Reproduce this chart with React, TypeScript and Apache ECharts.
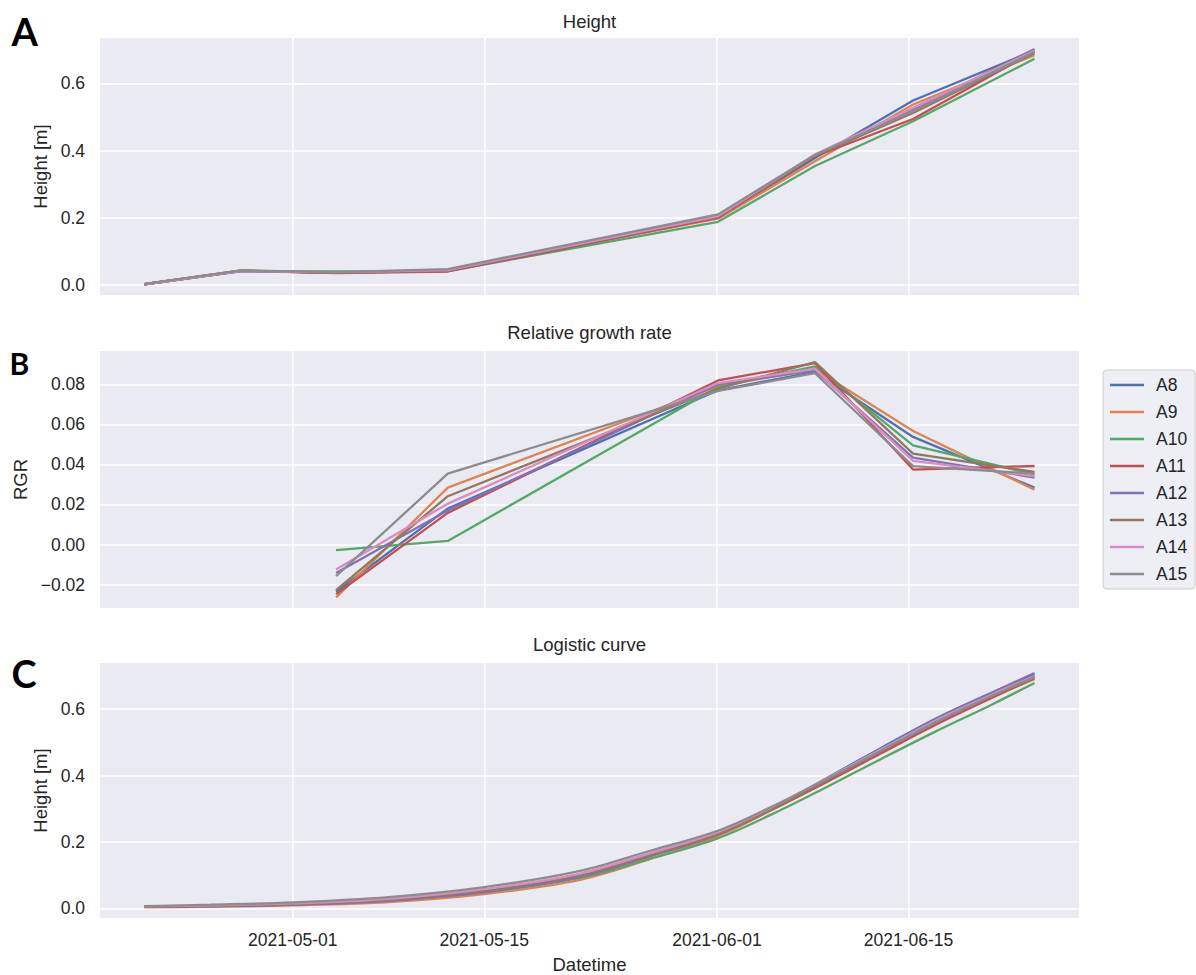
import { useEffect, useRef } from 'react';
import * as echarts from 'echarts';

const SERIES_NAMES = ['A8', 'A9', 'A10', 'A11', 'A12', 'A13', 'A14', 'A15'];
const COLORS = ['#4C72B0', '#DD8452', '#55A868', '#C44E52', '#8172B3', '#937860', '#DA8BC3', '#8C8C8C'];

// measurement times (panel A), panel B uses the 3rd..8th
const MEASURE_DATES = [
  '2021-04-20 04:00', '2021-04-27 06:00', '2021-05-04 04:00', '2021-05-12 08:00',
  '2021-06-01 02:00', '2021-06-08 04:00', '2021-06-15 08:00', '2021-06-24 05:00',
];

// Panel A: measured height [m]
const HEIGHT_A8 = [0.002, 0.042, 0.036, 0.042, 0.200, 0.378, 0.549, 0.698];
const HEIGHT_A9 = [0.002, 0.043, 0.036, 0.044, 0.197, 0.368, 0.537, 0.684];
const HEIGHT_A10 = [0.002, 0.041, 0.040, 0.041, 0.188, 0.354, 0.487, 0.673];
const HEIGHT_A11 = [0.002, 0.042, 0.035, 0.040, 0.200, 0.383, 0.494, 0.695];
const HEIGHT_A12 = [0.002, 0.041, 0.037, 0.043, 0.203, 0.386, 0.522, 0.702];
const HEIGHT_A13 = [0.002, 0.043, 0.036, 0.044, 0.205, 0.385, 0.512, 0.690];
const HEIGHT_A14 = [0.002, 0.042, 0.038, 0.044, 0.205, 0.388, 0.527, 0.697];
const HEIGHT_A15 = [0.003, 0.043, 0.038, 0.047, 0.210, 0.387, 0.517, 0.693];

// Panel B: relative growth rate (from 3rd measurement on)
const RGR_A8 = [-0.0236, 0.0180, 0.0770, 0.0862, 0.0537, 0.0284];
const RGR_A9 = [-0.0264, 0.0284, 0.0790, 0.0875, 0.0567, 0.0274];
const RGR_A10 = [-0.0028, 0.0018, 0.0786, 0.0889, 0.0495, 0.0350];
const RGR_A11 = [-0.0248, 0.0158, 0.0819, 0.0906, 0.0374, 0.0392];
const RGR_A12 = [-0.0142, 0.0170, 0.0800, 0.0869, 0.0434, 0.0334];
const RGR_A13 = [-0.0228, 0.0241, 0.0778, 0.0911, 0.0454, 0.0362];
const RGR_A14 = [-0.0125, 0.0204, 0.0806, 0.0877, 0.0417, 0.0341];
const RGR_A15 = [-0.0158, 0.0354, 0.0767, 0.0855, 0.0391, 0.0354];

// Panel C: logistic curve, read at these times
const LOGISTIC_DATES = [
  '2021-04-20 04:00', '2021-04-25 00:00', '2021-05-01 00:00', '2021-05-08 00:00',
  '2021-05-15 00:00', '2021-05-22 00:00', '2021-05-27 00:00', '2021-06-01 00:00',
  '2021-06-05 00:00', '2021-06-09 00:00', '2021-06-13 00:00', '2021-06-17 00:00',
  '2021-06-21 00:00', '2021-06-24 05:00',
];
const LOGI_A8 = [0.005, 0.007, 0.012, 0.024, 0.050, 0.096, 0.157, 0.221, 0.300, 0.392, 0.483, 0.572, 0.648, 0.704];
const LOGI_A9 = [0.003, 0.005, 0.009, 0.019, 0.043, 0.086, 0.147, 0.216, 0.296, 0.384, 0.474, 0.560, 0.635, 0.690];
const LOGI_A10 = [0.005, 0.007, 0.012, 0.024, 0.049, 0.092, 0.148, 0.210, 0.283, 0.365, 0.450, 0.533, 0.612, 0.679];
const LOGI_A11 = [0.005, 0.007, 0.012, 0.025, 0.051, 0.097, 0.156, 0.221, 0.297, 0.380, 0.467, 0.553, 0.632, 0.693];
const LOGI_A12 = [0.005, 0.007, 0.011, 0.023, 0.049, 0.095, 0.156, 0.222, 0.300, 0.390, 0.480, 0.570, 0.648, 0.709];
const LOGI_A13 = [0.005, 0.008, 0.013, 0.026, 0.053, 0.099, 0.159, 0.223, 0.299, 0.385, 0.473, 0.560, 0.638, 0.695];
const LOGI_A14 = [0.006, 0.009, 0.015, 0.029, 0.058, 0.105, 0.165, 0.229, 0.305, 0.391, 0.479, 0.566, 0.642, 0.700];
const LOGI_A15 = [0.007, 0.011, 0.018, 0.034, 0.064, 0.113, 0.172, 0.233, 0.306, 0.389, 0.475, 0.561, 0.638, 0.697];

const X_TICKS = ['2021-05-01 00:00', '2021-05-15 00:00', '2021-06-01 00:00', '2021-06-15 00:00'];
const HEIGHT_TICKS = [0, 0.2, 0.4, 0.6];
const RGR_TICKS = [-0.02, 0, 0.02, 0.04, 0.06, 0.08];

const PANEL_TITLES = ['Height', 'Relative growth rate', 'Logistic curve'];
const PANEL_LETTERS = ['A', 'B', 'C'];
const Y_NAMES = ['Height [m]', 'RGR', 'Height [m]'];

const HEIGHTS = [HEIGHT_A8, HEIGHT_A9, HEIGHT_A10, HEIGHT_A11, HEIGHT_A12, HEIGHT_A13, HEIGHT_A14, HEIGHT_A15];
const RGRS = [RGR_A8, RGR_A9, RGR_A10, RGR_A11, RGR_A12, RGR_A13, RGR_A14, RGR_A15];
const LOGIS = [LOGI_A8, LOGI_A9, LOGI_A10, LOGI_A11, LOGI_A12, LOGI_A13, LOGI_A14, LOGI_A15];

function ts(s: string): number {
  const [d, t] = s.split(' ');
  const [y, m, dd] = d.split('-').map(Number);
  const [hh, mm] = (t || '00:00').split(':').map(Number);
  return new Date(y, m - 1, dd, hh, mm).getTime();
}
function pad2(n: number) { return n < 10 ? '0' + n : '' + n; }
function fmtDate(v: number) {
  const d = new Date(v);
  return d.getFullYear() + '-' + pad2(d.getMonth() + 1) + '-' + pad2(d.getDate());
}

const FONT = 'Liberation Sans, Arial, sans-serif';
const TEXT = '#262626';
const LEFT = 100;
const WIDTH = 979;
const GRID_TOPS = [38, 351, 663];
const GRID_H = 257;
const TICK_FS = 17.5;

export default function App() {
  const ref = useRef<HTMLDivElement>(null);
  useEffect(() => {
    if (!ref.current) return;
    const chart = echarts.init(ref.current, undefined, { renderer: 'svg' });
    const mDates = MEASURE_DATES.map(ts);
    const rDates = mDates.slice(2);
    const lDates = LOGISTIC_DATES.map(ts);
    const span = mDates[mDates.length - 1] - mDates[0];
    const xMin = mDates[0] - span * 0.05;
    const xMax = mDates[mDates.length - 1] + span * 0.05;
    const xTicks = X_TICKS.map(ts);
    const yRanges = [[-0.03, 0.735], [-0.0317, 0.0966], [-0.029, 0.739]];

    const grids = GRID_TOPS.map((top) => ({
      left: LEFT, width: WIDTH, top, height: GRID_H,
      show: true, backgroundColor: '#EAEAF2', borderWidth: 0,
    }));

    const xAxes = [0, 1, 2].map((i) => ({
      type: 'value', gridIndex: i, min: xMin, max: xMax,
      axisLine: { show: false },
      axisTick: { show: false, customValues: xTicks },
      axisLabel: {
        show: i === 2, customValues: xTicks, formatter: (v: number) => fmtDate(v),
        color: TEXT, fontSize: TICK_FS, fontFamily: FONT, margin: 13,
      },
      splitLine: { show: true, lineStyle: { color: '#FFFFFF', width: 1.5 } },
      name: i === 2 ? 'Datetime' : '',
      nameLocation: 'middle', nameGap: 37,
      nameTextStyle: { color: TEXT, fontSize: 18.5, fontFamily: FONT },
    }));

    const yAxes = [0, 1, 2].map((i) => {
      const ticks = i === 1 ? RGR_TICKS : HEIGHT_TICKS;
      return {
        type: 'value', gridIndex: i, min: yRanges[i][0], max: yRanges[i][1],
        axisLine: { show: false },
        axisTick: { show: false, customValues: ticks },
        axisLabel: {
          customValues: ticks, color: TEXT, fontSize: TICK_FS, fontFamily: FONT, margin: 15,
          formatter: (v: number) => {
            if (i === 1) {
              const r = Math.round(v * 100) / 100;
              return (r < 0 ? '\u2212' : '') + Math.abs(r).toFixed(2);
            }
            return (Math.round(v * 10) / 10).toFixed(1);
          },
        },
        splitLine: { show: true, lineStyle: { color: '#FFFFFF', width: 1.5 } },
        name: Y_NAMES[i], nameLocation: 'middle', nameGap: i === 1 ? 68 : 48,
        nameTextStyle: { color: TEXT, fontSize: 18.5, fontFamily: FONT },
      };
    });

    const series: any[] = [];
    const panels = [
      { dates: mDates, vals: HEIGHTS, smooth: false },
      { dates: rDates, vals: RGRS, smooth: false },
      { dates: lDates, vals: LOGIS, smooth: true },
    ];
    panels.forEach((p, pi) => {
      SERIES_NAMES.forEach((name, si) => {
        series.push({
          type: 'line', name, xAxisIndex: pi, yAxisIndex: pi,
          data: p.vals[si].map((v, k) => [p.dates[k], v]),
          showSymbol: false, symbol: 'none', smooth: p.smooth ? 0.35 : false,
          lineStyle: { width: 2.3, color: COLORS[si] },
          itemStyle: { color: COLORS[si] },
          emphasis: { disabled: true },
          z: 2 + si,
        });
      });
    });

    const titleTops = [12, 323, 635];
    const letterY = [30.5, 362.5, 672.5];
    const letterSize = [38, 30, 38];
    const letterX = [11.5, 9.6, 11.5];

    chart.setOption({
      animation: false,
      color: COLORS,
      textStyle: { fontFamily: FONT, color: TEXT },
      title: PANEL_TITLES.map((t, i) => ({
        text: t, left: LEFT + WIDTH / 2, top: titleTops[i], textAlign: 'center', padding: 0,
        textStyle: { fontSize: 18.5, fontWeight: 'normal', color: TEXT, fontFamily: FONT },
      })),
      legend: {
        orient: 'vertical', left: 1103, top: 370, icon: 'rect',
        itemWidth: 34, itemHeight: 2.5, itemGap: 7,
        padding: [5, 8, 5, 7],
        backgroundColor: 'rgba(234,234,242,0.8)', borderColor: '#CCCCCC', borderWidth: 1, borderRadius: 4,
        textStyle: { fontSize: TICK_FS, color: TEXT, fontFamily: FONT, lineHeight: 20, padding: [0, 0, 0, 7] },
        data: SERIES_NAMES,
        selectedMode: false,
      },
      grid: grids,
      xAxis: xAxes,
      yAxis: yAxes,
      series,
      graphic: PANEL_LETTERS.map((l, i) => ({
        type: 'text', x: letterX[i], y: letterY[i],
        style: {
          text: l, fill: '#000000', fontFamily: 'Lato, sans-serif', fontWeight: 'bold',
          fontSize: letterSize[i], verticalAlign: 'middle', align: 'left',
        },
      })),
    });
    return () => chart.dispose();
  }, []);
  return <div ref={ref} style={{ position: 'absolute', left: 0, top: 0, width: 1196, height: 975 }} />;
}
